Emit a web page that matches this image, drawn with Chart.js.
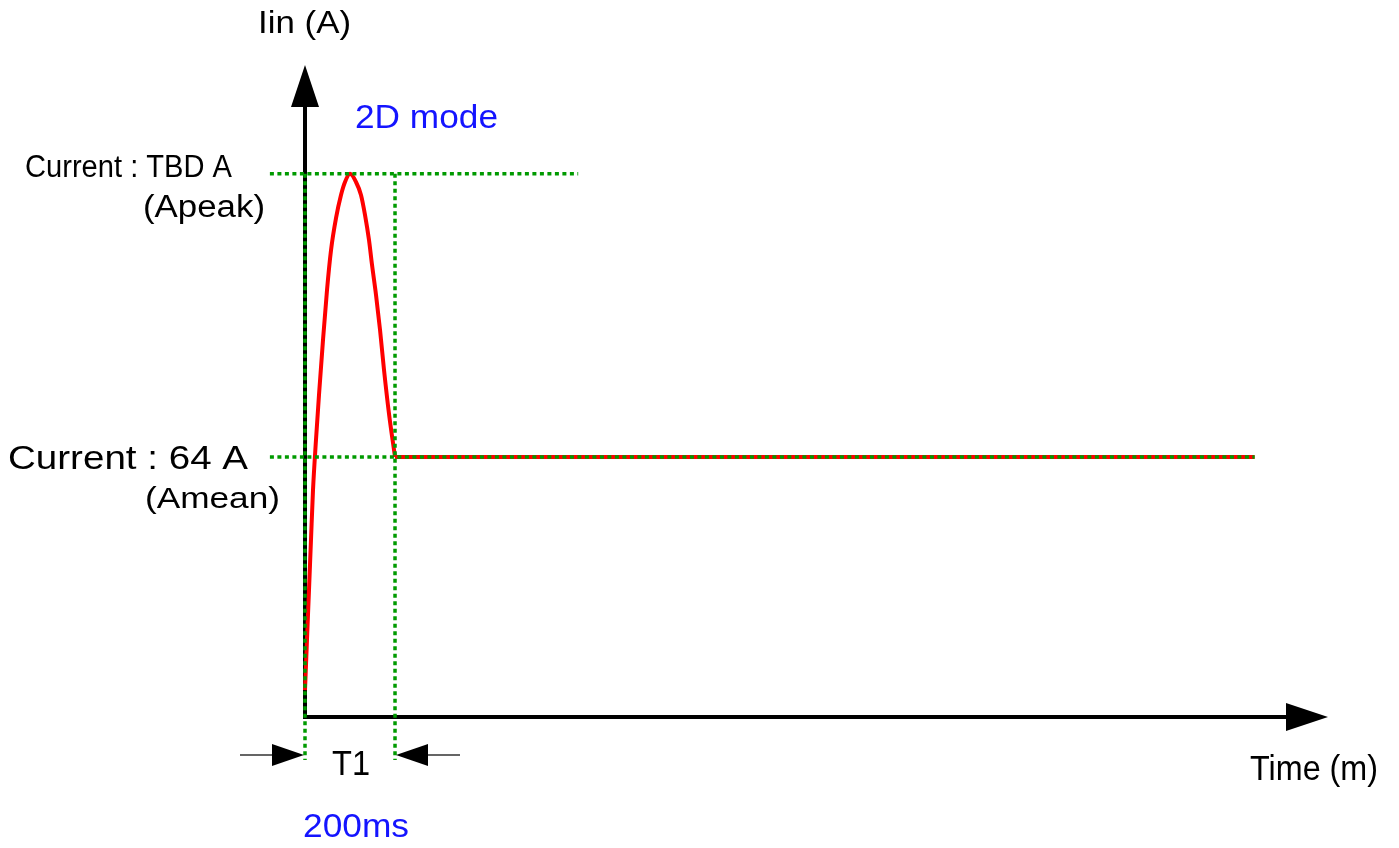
<!DOCTYPE html>
<html>
<head>
<meta charset="utf-8">
<script src="https://cdn.jsdelivr.net/npm/chart.js@4.4.1/dist/chart.umd.min.js"></script>
<style>
    html, body { margin: 0; padding: 0; background: #ffffff; }
    #wrap { width: 1399px; height: 848px; }
</style>
</head>
<body>
<div id="wrap"><canvas id="pulseChart" width="1399" height="848"></canvas></div>
<script>
const timeMs   = [0, 4.4, 8.9, 13.3, 17.8, 24.4, 31.1, 40, 48.9, 57.8, 68.9, 80, 88.9, 100,
                  113.3, 124.4, 133.3, 142.2, 148.9, 157.8, 166.7, 175.6, 186.7, 200];
const currentA = [6.6, 19, 31.3, 43.6, 55.9, 68.2, 79.3, 92.8, 105.1, 114.9, 122.8, 128.5, 131.7, 133.7,
                  131.7, 128.5, 123.6, 117.4, 111.3, 103.9, 95.3, 85.4, 74.6, 64];

// Palier après T1
const steadyTimeMs = [200, 2110];
const steadyCurrentA = [64, 64];

// Repères en pointillés verts
const peakA = 133.7;
const meanA = 64;
const t1Ms = 200;
const guideLeftMs = -78;
const peakGuideRightMs = 607;
const guideBottomA = -10.6;

// Bornes des axes (pointes des flèches)
const timeAxisMax = 2273;
const currentAxisMax = 160.5;

function toPoints(xs, ys) {
    return xs.map((x, i) => ({ x: x, y: ys[i] }));
}

const GREEN = '#009a00';
const RED = '#ff0000';
const BLUE = '#1414ff';

function guide(xs, ys) {
    return {
        data: toPoints(xs, ys),
        showLine: true,
        borderColor: GREEN,
        borderWidth: 3.5,
        borderDash: [4, 3.5],
        pointRadius: 0,
        clip: false,
        tension: 0
    };
}

// Textes du schéma : position (px), taille de police, largeur visée
const labels = [
    { text: 'Iin (A)', x: 258, y: 33, size: 32, w: 93, color: '#000' },
    { text: '2D mode', x: 355, y: 128, size: 34, w: 143, color: BLUE },
    { text: 'Current : TBD A', x: 25, y: 177, size: 31, w: 207, color: '#000' },
    { text: '(Apeak)', x: 143, y: 217, size: 31, w: 122, color: '#000' },
    { text: 'Current : 64 A', x: 8, y: 469, size: 34, w: 240, color: '#000' },
    { text: '(Amean)', x: 145, y: 508, size: 30, w: 135, color: '#000' },
    { text: 'T1', x: 332, y: 775, size: 35, w: 38, color: '#000' },
    { text: '200ms', x: 303, y: 837, size: 33, w: 106, color: BLUE },
    { text: 'Time (m)', x: 1250, y: 780, size: 35, w: 128, color: '#000' }
];

function drawArrowHead(ctx, tipX, tipY, dirX, dirY, len, half) {
    const bx = tipX - dirX * len;
    const by = tipY - dirY * len;
    ctx.beginPath();
    ctx.moveTo(tipX, tipY);
    ctx.lineTo(bx - dirY * half, by + dirX * half);
    ctx.lineTo(bx + dirY * half, by - dirX * half);
    ctx.closePath();
    ctx.fill();
}

const axesPlugin = {
    id: 'axesArrows',
    beforeDatasetsDraw(chart) {
        const { ctx, chartArea, scales } = chart;
        const x0 = scales.x.getPixelForValue(0);
        const y0 = scales.y.getPixelForValue(0);
        ctx.save();
        ctx.strokeStyle = '#000';
        ctx.fillStyle = '#000';
        ctx.lineWidth = 4;
        ctx.beginPath();
        ctx.moveTo(x0, y0 + 2);
        ctx.lineTo(x0, chartArea.top + 38);
        ctx.moveTo(x0 - 2, y0);
        ctx.lineTo(chartArea.right - 38, y0);
        ctx.stroke();
        drawArrowHead(ctx, x0, chartArea.top, 0, -1, 42, 14);
        drawArrowHead(ctx, chartArea.right, y0, 1, 0, 42, 14);
        ctx.restore();
    },
    afterDatasetsDraw(chart) {
        const { ctx, scales } = chart;
        const xs = scales.x.getPixelForValue(0);
        const xe = scales.x.getPixelForValue(t1Ms);
        const ya = scales.y.getPixelForValue(0) + 38;
        ctx.save();
        ctx.strokeStyle = '#333';
        ctx.fillStyle = '#000';
        ctx.lineWidth = 1.5;
        ctx.beginPath();
        ctx.moveTo(xs - 65, ya);
        ctx.lineTo(xs - 30, ya);
        ctx.moveTo(xe + 30, ya);
        ctx.lineTo(xe + 65, ya);
        ctx.stroke();
        drawArrowHead(ctx, xs - 1, ya, 1, 0, 32, 11);
        drawArrowHead(ctx, xe + 1, ya, -1, 0, 32, 11);

        // textes, ajustés en largeur
        labels.forEach(l => {
            ctx.font = l.size + "px 'Liberation Sans', Arial, sans-serif";
            ctx.fillStyle = l.color;
            ctx.textBaseline = 'alphabetic';
            ctx.textAlign = 'left';
            const m = ctx.measureText(l.text).width;
            ctx.save();
            ctx.translate(l.x, l.y);
            ctx.scale(l.w / m, 1);
            ctx.fillText(l.text, 0, 0);
            ctx.restore();
        });
        ctx.restore();
    }
};

const ctx = document.getElementById('pulseChart').getContext('2d');

new Chart(ctx, {
    type: 'scatter',
    data: {
        datasets: [
            guide([guideLeftMs, steadyTimeMs[1]], [meanA, meanA]),
            guide([guideLeftMs, peakGuideRightMs], [peakA, peakA]),
            guide([0, 0], [peakA, guideBottomA]),
            guide([t1Ms, t1Ms], [peakA, guideBottomA]),
            {
                data: toPoints(steadyTimeMs, steadyCurrentA),
                showLine: true,
                borderColor: RED,
                borderWidth: 4,
                pointRadius: 0,
                clip: false
            },
            {
                data: toPoints(timeMs, currentA),
                showLine: true,
                borderColor: RED,
                borderWidth: 4,
                pointRadius: 0,
                cubicInterpolationMode: 'monotone',
                clip: false
            }
        ]
    },
    options: {
        responsive: false,
        animation: false,
        devicePixelRatio: 1,
        layout: {
            padding: { left: 305, right: 71, top: 65, bottom: 131 }
        },
        scales: {
            x: { type: 'linear', min: 0, max: timeAxisMax, display: false },
            y: { type: 'linear', min: 0, max: currentAxisMax, display: false }
        },
        plugins: {
            legend: { display: false },
            tooltip: { enabled: false }
        }
    },
    plugins: [axesPlugin]
});
</script>
</body>
</html>
